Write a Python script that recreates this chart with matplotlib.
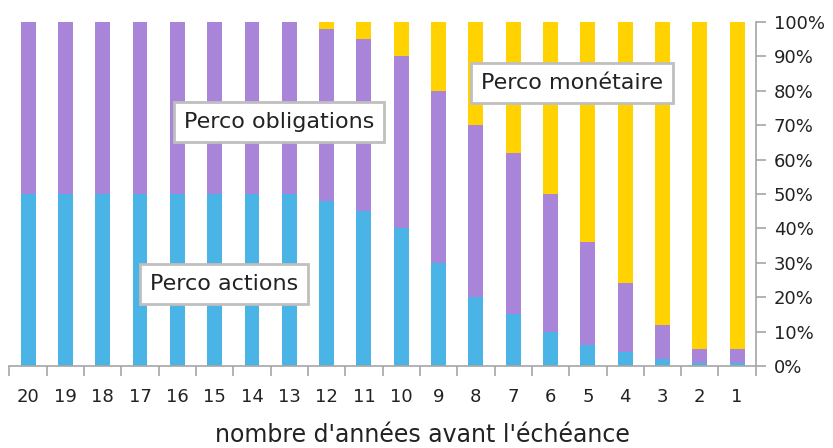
import numpy as np
import matplotlib.pyplot as plt

years = [20, 19, 18, 17, 16, 15, 14, 13, 12, 11, 10, 9, 8, 7, 6, 5, 4, 3, 2, 1]
actions = [50, 50, 50, 50, 50, 50, 50, 50, 48, 45, 40, 30, 20, 15, 10, 6, 4, 2, 1, 1]
obligations = [50, 50, 50, 50, 50, 50, 50, 50, 50, 50, 50, 50, 50, 47, 40, 30, 20, 10, 4, 4]
monetaire = [0, 0, 0, 0, 0, 0, 0, 0, 2, 5, 10, 20, 30, 38, 50, 64, 76, 88, 95, 95]

blue = "#4BB4E6"
purple = "#A885D8"
yellow = "#FFD200"
grey = "#A6A6A6"
ink = "#222222"

fig = plt.figure(figsize=(8.33, 4.48), dpi=100)
ax = fig.add_axes([0.0113, 0.183, 0.896, 0.768])

x = np.arange(len(years))
a = np.array(actions)
o = np.array(obligations)
m = np.array(monetaire)
ax.bar(x, a, width=0.4, color=blue)
ax.bar(x, o, width=0.4, bottom=a, color=purple)
ax.bar(x, m, width=0.4, bottom=a + o, color=yellow)

ax.set_xlim(-0.5, len(years) - 0.5)
ax.set_ylim(0, 100)

for s in ["top", "left"]:
    ax.spines[s].set_visible(False)
for s in ["bottom", "right"]:
    ax.spines[s].set_color(grey)
    ax.spines[s].set_linewidth(1.2)

ax.yaxis.tick_right()
ax.set_yticks(range(0, 101, 10))
ax.set_yticklabels([f"{v}%" for v in range(0, 101, 10)])
ax.tick_params(axis="y", colors=grey, labelcolor=ink, labelsize=13,
               length=7, width=1.2, pad=6)

# ticks between categories, labels centred under bars
ax.set_xticks(np.arange(-0.5, len(years), 1))
ax.set_xticklabels([])
ax.set_xticks(x, minor=True)
ax.set_xticklabels([str(y) for y in years], minor=True)
ax.tick_params(axis="x", which="major", colors=grey, length=7, width=1.2)
ax.tick_params(axis="x", which="minor", length=0, labelcolor=ink,
               labelsize=13, pad=16)

fig.text(422 / 833, 1 / 448, "nombre d'années avant l'échéance", fontsize=17,
         color=ink, ha="center", va="bottom")

box = dict(boxstyle="square,pad=0.45", fc="white", ec="#BFBFBF", lw=2)
ax.text(279, 448 - 122, "Perco obligations", transform=None, fontsize=16,
        ha="center", va="center", color=ink, bbox=box)
ax.text(572, 448 - 83, "Perco monétaire", transform=None, fontsize=16,
        ha="center", va="center", color=ink, bbox=box)
ax.text(224, 448 - 284, "Perco actions", transform=None, fontsize=16,
        ha="center", va="center", color=ink, bbox=box)

fig.savefig("out.png", dpi=100)
